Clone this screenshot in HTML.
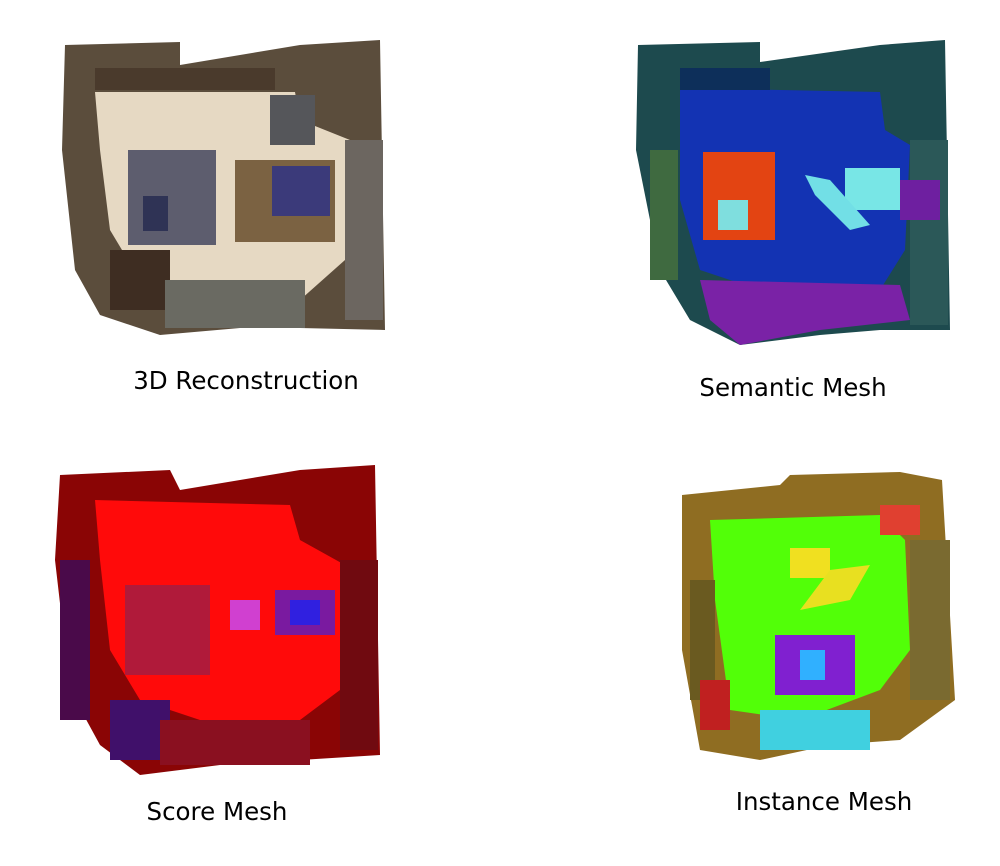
<!DOCTYPE html>
<html><head><meta charset="utf-8">
<style>
html,body{margin:0;padding:0;background:#fff;width:1000px;height:866px;overflow:hidden}
svg{display:block}
text{font-family:"DejaVu Sans","Liberation Sans",sans-serif;font-size:24.5px;fill:#000}
</style></head>
<body>
<svg width="1000" height="866" viewBox="0 0 1000 866">
<!-- 3D Reconstruction -->
<g>
<polygon points="65,45 180,42 180,65 300,45 380,40 385,330 300,328 240,328 160,335 100,315 75,270 62,150" fill="#5b4d3c"/>
<polygon points="95,92 295,92 300,120 350,140 345,260 300,300 200,300 140,280 110,230 100,150" fill="#e6d9c3"/>
<rect x="235" y="160" width="100" height="82" fill="#7b6242"/>
<rect x="272" y="166" width="58" height="50" fill="#3b3a7a"/>
<rect x="128" y="150" width="88" height="95" fill="#5d5d6e"/>
<rect x="143" y="196" width="25" height="35" fill="#2f3355"/>
<rect x="95" y="68" width="180" height="22" fill="#4a3a2c"/>
<rect x="345" y="140" width="38" height="180" fill="#6c6660"/>
<rect x="110" y="250" width="60" height="60" fill="#3e2d22"/>
<rect x="270" y="95" width="45" height="50" fill="#55565a"/>
<rect x="165" y="280" width="140" height="48" fill="#6a6a62"/>
</g>
<text x="246" y="389" text-anchor="middle">3D Reconstruction</text>

<!-- Semantic Mesh -->
<g>
<polygon points="638,45 760,42 760,62 880,45 945,40 950,330 880,330 820,335 740,345 690,320 660,270 636,150" fill="#1d4a4e"/>
<polygon points="680,88 880,92 885,130 910,145 905,250 880,290 760,290 700,270 680,200" fill="#1333b3"/>
<polygon points="700,280 900,285 910,320 820,330 740,345 710,320" fill="#7a22a6"/>
<rect x="703" y="152" width="72" height="88" fill="#e34412"/>
<rect x="718" y="200" width="30" height="30" fill="#7fdede"/>
<rect x="845" y="168" width="55" height="42" fill="#78e6e6"/>
<polygon points="805,175 830,180 870,225 850,230 815,195" fill="#72dfe6"/>
<rect x="680" y="68" width="90" height="22" fill="#0d2f5a"/>
<rect x="910" y="140" width="38" height="185" fill="#2b5858"/>
<rect x="900" y="180" width="40" height="40" fill="#6e1fa0"/>
<rect x="650" y="150" width="28" height="130" fill="#3f6a40"/>
</g>
<text x="793" y="396" text-anchor="middle">Semantic Mesh</text>

<!-- Score Mesh -->
<g>
<polygon points="60,475 170,470 180,490 300,470 375,465 380,755 300,760 220,765 140,775 100,745 70,690 55,560" fill="#8a0505"/>
<polygon points="95,500 290,505 300,540 345,565 340,690 300,720 200,720 140,700 110,650 100,560" fill="#ff0a0a"/>
<rect x="125" y="585" width="85" height="90" fill="#b01a3a"/>
<rect x="275" y="590" width="60" height="45" fill="#7a1aa0"/>
<rect x="290" y="600" width="30" height="25" fill="#3020e0"/>
<rect x="230" y="600" width="30" height="30" fill="#d040d0"/>
<rect x="60" y="560" width="30" height="160" fill="#4a0a4a"/>
<rect x="340" y="560" width="38" height="190" fill="#700a10"/>
<rect x="110" y="700" width="60" height="60" fill="#40106a"/>
<rect x="160" y="720" width="150" height="45" fill="#8a1020"/>
</g>
<text x="217" y="820" text-anchor="middle">Score Mesh</text>

<!-- Instance Mesh -->
<g>
<polygon points="682,495 780,485 790,475 900,472 942,480 955,700 900,740 830,745 760,760 700,750 682,650" fill="#8f6d22"/>
<polygon points="710,520 880,515 905,540 910,650 880,690 800,720 730,710 715,600" fill="#52ff08"/>
<rect x="790" y="548" width="40" height="30" fill="#f0e020"/>
<polygon points="830,570 870,565 850,600 800,610" fill="#e8e020"/>
<rect x="775" y="635" width="80" height="60" fill="#8020d0"/>
<rect x="800" y="650" width="25" height="30" fill="#30b0ff"/>
<rect x="880" y="505" width="40" height="30" fill="#e04030"/>
<rect x="690" y="580" width="25" height="120" fill="#6a5a20"/>
<rect x="910" y="540" width="40" height="160" fill="#7a6a30"/>
<rect x="760" y="710" width="110" height="40" fill="#40d0e0"/>
<rect x="700" y="680" width="30" height="50" fill="#c02020"/>
</g>
<text x="824" y="810" text-anchor="middle">Instance Mesh</text>
</svg>
</body></html>
